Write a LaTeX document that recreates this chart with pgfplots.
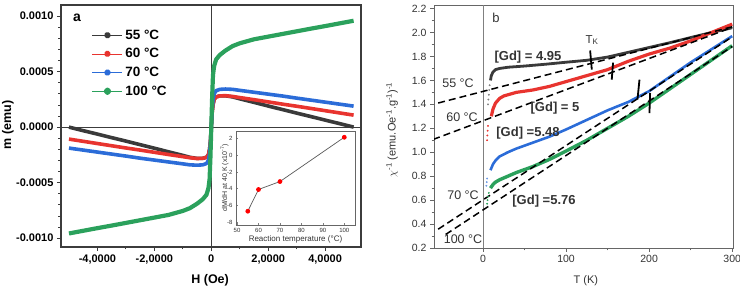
\documentclass[border=0pt]{standalone}
\usepackage{fontspec}
\setmainfont{Liberation Sans}
\setsansfont{Liberation Sans}
\usepackage{pgfplots}
\pgfplotsset{compat=1.18}
\usepackage{pgfplotstable}

\definecolor{c55}{HTML}{3A3A3A}
\definecolor{c60}{HTML}{E8342F}
\definecolor{c70}{HTML}{2B6CD8}
\definecolor{c100}{HTML}{2BA15C}
\definecolor{axgray}{HTML}{3C3C3C}
\definecolor{tgray}{HTML}{333333}

% magnetisation loops, m (emu) against H (Oe)
\pgfplotstableread{
H       m55        m60        m70        m100
-50000  0.0        -0.000108  -0.000189  -0.000958
-45000  -0.000032  -0.000128  -0.000207  -0.000934
-40000  -0.000063  -0.000148  -0.000225  -0.000910
-35000  -0.000095  -0.000168  -0.000243  -0.000887
-30000  -0.000126  -0.000188  -0.000261  -0.000863
-25000  -0.000158  -0.000207  -0.000280  -0.000839
-20000  -0.000190  -0.000227  -0.000297  -0.000815
-15000  -0.000223  -0.000247  -0.000314  -0.000791
-10000  -0.000255  -0.000266  -0.000331  -0.000755
-7500   -0.000272  -0.000276  -0.000340  -0.000730
-5000   -0.000282  -0.000283  -0.000343  -0.000690
-3000   -0.000281  -0.000281  -0.000340  -0.000650
-1700   -0.000272  -0.000272  -0.000328  -0.000610
-1000   -0.000250  -0.000250  -0.000300  -0.000550
-600    -0.000200  -0.000200  -0.000240  -0.000470
-300    -0.000130  -0.000130  -0.000150  -0.000270
0       0.0        0.0        0.0        0.0
300     0.000130   0.000130   0.000150   0.000270
600     0.000200   0.000200   0.000240   0.000470
1000    0.000250   0.000250   0.000300   0.000550
1700    0.000272   0.000272   0.000328   0.000610
3000    0.000281   0.000281   0.000340   0.000650
5000    0.000282   0.000283   0.000343   0.000690
7500    0.000272   0.000276   0.000340   0.000730
10000   0.000255   0.000266   0.000331   0.000755
15000   0.000223   0.000247   0.000314   0.000791
20000   0.000190   0.000227   0.000297   0.000815
25000   0.000158   0.000207   0.000280   0.000839
30000   0.000126   0.000188   0.000261   0.000863
35000   0.000095   0.000168   0.000243   0.000887
40000   0.000063   0.000148   0.000225   0.000910
45000   0.000032   0.000128   0.000207   0.000934
50000   0.0        0.000108   0.000189   0.000958
}\magdata

% slope dM/dH at 40 K against reaction temperature
\pgfplotstableread{
Tr   slope
55   -6.7
60   -4.1
70   -3.15
100  2.15
}\slopedata

% inverse susceptibility against T
\pgfplotstableread{
T    chi
9    1.60
10   1.64
12   1.67
15   1.69
20   1.70
30   1.71
50   1.72
75   1.735
100  1.752
125  1.768
150  1.795
175  1.835
200  1.875
225  1.915
250  1.958
275  2.00
300  2.04
}\chiA
\pgfplotstableread{
T    chi
10   1.30
12   1.36
15   1.41
20   1.45
25   1.47
40   1.50
60   1.52
80   1.55
100  1.59
125  1.64
150  1.69
175  1.76
200  1.82
225  1.87
250  1.93
275  2.00
300  2.07
}\chiB
\pgfplotstableread{
T    chi
9    0.85
12   0.90
15   0.93
20   0.965
30   1.00
40   1.03
60   1.08
80   1.13
100  1.19
125  1.27
150  1.35
175  1.42
200  1.51
225  1.63
250  1.75
275  1.86
300  1.97
}\chiC
\pgfplotstableread{
T    chi
9    0.70
12   0.73
15   0.75
20   0.77
30   0.80
40   0.83
60   0.88
80   0.94
100  1.01
125  1.10
150  1.20
175  1.30
200  1.41
225  1.53
250  1.65
275  1.77
300  1.89
}\chiD

\begin{document}
\begin{tikzpicture}
\useasboundingbox (0pt,0pt) rectangle (740pt,289pt);

% ---------------- panel a ----------------
\begin{axis}[
  at={(61pt,42pt)}, anchor=south west,
  scale only axis, width=300pt, height=242pt,
  xmin=-52800, xmax=52600, ymin=-0.00108, ymax=0.0011,
  xtick={-40000,-20000,0,20000,40000},
  xticklabels={{-4,0000},{-2,0000},0,{2,0000},{4,0000}},
  ytick={-0.001,-0.0005,0,0.0005,0.001},
  yticklabels={-0.0010,-0.0005,0.0000,0.0005,0.0010},
  scaled ticks=false,
  minor x tick num=1, minor y tick num=4,
  tick align=outside, xtick pos=left, ytick pos=left,
  major tick length=4pt, minor tick length=2.5pt,
  tick style={color=axgray, line width=0.8pt},
  axis line style={color=axgray, line width=1.1pt},
  /pgf/number format/assume math mode=true,
  ticklabel style={font=\bfseries\fontsize{11}{12}\selectfont},
  xlabel={H (Oe)}, ylabel={m (emu)},
  label style={font=\bfseries\fontsize{12.5}{14}\selectfont},
  xlabel style={at={(axis description cs:0.497,-0.136)}, anchor=center},
  ylabel style={at={(axis description cs:-0.177,0.504)}, anchor=center},
  legend cell align=left,
  legend image code/.code={
    \draw[line width=0.7pt] (0pt,0pt) -- (30pt,0pt);
    \fill (15pt,0pt) circle (1.6pt);},
  legend style={at={(rel axis cs:0.103,0.901)}, anchor=north west,
    draw=none, fill=none, inner sep=0pt, row sep=6.7pt,
    font=\bfseries\fontsize{13.5}{14}\selectfont,
    nodes={inner xsep=2.5pt, inner ysep=0pt, text height=10pt, text depth=2pt}},
]
\draw[axgray, line width=0.8pt] (axis cs:0,-0.00108) -- (axis cs:0,0.0011);
\draw[axgray, line width=0.8pt] (axis cs:-52800,0) -- (axis cs:52600,0);
\addplot[color=c55, line width=3.6pt, line join=round] table[x=H, y=m55] {\magdata};
\addlegendentry{55 °C}
\addplot[color=c60, line width=3.6pt, line join=round] table[x=H, y=m60] {\magdata};
\addlegendentry{60 °C}
\addplot[color=c70, line width=3.6pt, line join=round] table[x=H, y=m70] {\magdata};
\addlegendentry{70 °C}
\addplot[color=c100, line width=4.2pt, line join=round] table[x=H, y=m100] {\magdata};
\addlegendentry{100 °C}
\fill[white] (rel axis cs:0.527,0.006) rectangle (rel axis cs:0.993,0.488);
\end{axis}
\node[font=\bfseries\fontsize{14}{16}\selectfont] at (77pt,271pt) {a};

% inset
\begin{axis}[
  at={(236pt,64pt)}, anchor=south west,
  scale only axis, width=119pt, height=94pt,
  xmin=49.5, xmax=105, ymin=-8.35, ymax=2.9,
  xtick={50,60,70,80,90,100}, ytick={-8,-6,-4,-2,0,2},
  tick align=inside, xtick pos=left, ytick pos=left,
  major tick length=2pt,
  tick style={color=gray, line width=0.5pt},
  axis line style={color=gray!80!black, line width=0.6pt},
  /pgf/number format/assume math mode=true,
  ticklabel style={font=\fontsize{6}{7}\selectfont, text=tgray},
  xlabel={Reaction temperature (°C)},
  ylabel={dM/dH at 40 K (x10\textsuperscript{-7})},
  xlabel style={font=\fontsize{8}{9}\selectfont, text=tgray, at={(axis description cs:0.5,-0.149)}, anchor=center},
  ylabel style={font=\fontsize{7}{8}\selectfont, text=tgray, at={(axis description cs:-0.095,0.5)}, anchor=center},
]
\addplot[color=gray!70!black, line width=0.7pt, mark=*, mark size=2pt,
  mark options={draw=red, fill=red}] table[x=Tr, y=slope] {\slopedata};
\end{axis}

% ---------------- panel b ----------------
\begin{axis}[
  at={(434pt,41pt)}, anchor=south west,
  scale only axis, width=299pt, height=243pt,
  xmin=-59, xmax=301, ymin=0.2, ymax=2.23,
  xtick={0,100,200,300},
  ytick={0.2,0.4,0.6,0.8,1.0,1.2,1.4,1.6,1.8,2.0,2.2},
  yticklabel style={/pgf/number format/fixed, /pgf/number format/precision=1,
    /pgf/number format/fixed zerofill},
  minor x tick num=1, minor y tick num=1,
  tick align=outside, xtick pos=left, ytick pos=left,
  major tick length=4pt, minor tick length=2.5pt,
  tick style={color=gray!80!black, line width=0.7pt},
  axis line style={color=gray!80!black, line width=0.8pt},
  /pgf/number format/assume math mode=true,
  ticklabel style={font=\fontsize{10.5}{12}\selectfont, text=tgray},
  xlabel={T (K)},
  ylabel={$\chi$\textsuperscript{-1} (emu.Oe\textsuperscript{-1}.g\textsuperscript{-1})\textsuperscript{-1}},
  label style={font=\fontsize{11}{13}\selectfont, text=tgray},
  xlabel style={at={(axis description cs:0.508,-0.136)}, anchor=center},
  ylabel style={at={(axis description cs:-0.14,0.486)}, anchor=center},
]
\draw[gray, line width=0.8pt] (axis cs:0,0.2) -- (axis cs:0,2.23);
% scattered low-temperature points
\addplot[only marks, mark=*, mark size=0.7pt, color=gray] coordinates {(6,1.40) (6.5,1.44) (7,1.48) (7.5,1.52) (8,1.56)};
\addplot[only marks, mark=*, mark size=0.7pt, color=c60] coordinates {(5,1.10) (5.3,1.14) (5.6,1.18) (6,1.22)};
\addplot[only marks, mark=*, mark size=0.7pt, color=c70!70] coordinates {(4,0.72) (4.5,0.75) (5,0.78)};
\addplot[only marks, mark=*, mark size=0.7pt, color=c100] coordinates {(5,0.57) (5.5,0.60) (6,0.63) (7,0.66)};
% curves
\addplot[color=c55, line width=2.8pt, line join=round] table[x=T, y=chi] {\chiA};
\addplot[color=c60, line width=3.2pt, line join=round] table[x=T, y=chi] {\chiB};
\addplot[color=c70, line width=2.6pt, line join=round] table[x=T, y=chi] {\chiC};
\addplot[color=c100, line width=3.4pt, line join=round] table[x=T, y=chi] {\chiD};
% Curie-Weiss fits
\addplot[black, line width=1.5pt, dash pattern=on 7pt off 4pt] coordinates {(-54,1.411) (300,2.048)};
\addplot[black, line width=1.5pt, dash pattern=on 7pt off 4pt] coordinates {(-60,1.107) (300,2.043)};
\addplot[black, line width=1.5pt, dash pattern=on 7pt off 4pt] coordinates {(-54,0.357) (300,1.964)};
\addplot[black, line width=1.5pt, dash pattern=on 7pt off 4pt] coordinates {(-45,0.313) (300,1.883)};
% T_K markers
\addplot[black, line width=1.8pt] coordinates {(131,1.69) (129,1.85)};
\addplot[black, line width=1.8pt] coordinates {(155,1.606) (156.6,1.748)};
\addplot[black, line width=1.8pt] coordinates {(186,1.44) (188.4,1.606)};
\addplot[black, line width=1.8pt] coordinates {(200.4,1.327) (201.2,1.495)};
\end{axis}

\begin{scope}[every node/.style={text=tgray, inner sep=0pt}]
\node[font=\fontsize{13}{15}\selectfont] at (496pt,271pt) {b};
\node[font=\fontsize{11.5}{13}\selectfont] at (592pt,249pt) {T\textsubscript{K}};
\node[font=\bfseries\fontsize{13}{15}\selectfont] at (528pt,232pt) {[Gd] = 4.95};
\node[font=\fontsize{12.5}{15}\selectfont] at (458pt,206pt) {55 °C};
\node[font=\fontsize{12.5}{15}\selectfont] at (462pt,172pt) {60 °C};
\node[font=\bfseries\fontsize{13}{15}\selectfont] at (555pt,181pt) {[Gd] = 5};
\node[font=\bfseries\fontsize{13}{15}\selectfont] at (528pt,156pt) {[Gd] =5.48};
\node[font=\fontsize{12.5}{15}\selectfont] at (463pt,94pt) {70 °C};
\node[font=\bfseries\fontsize{13}{15}\selectfont] at (544pt,88pt) {[Gd] =5.76};
\node[font=\fontsize{12.5}{15}\selectfont] at (463pt,50pt) {100 °C};
\end{scope}
\end{tikzpicture}
\end{document}
